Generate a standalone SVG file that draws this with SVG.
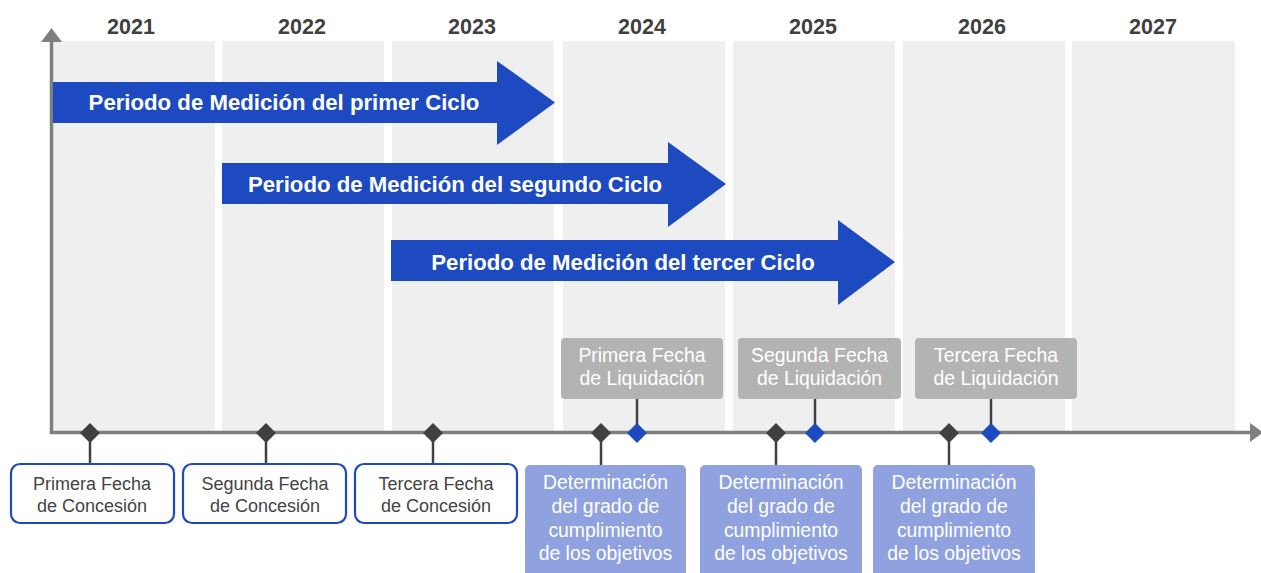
<svg xmlns="http://www.w3.org/2000/svg" width="1261" height="573" viewBox="0 0 1261 573">
<style>
.col{fill:#efefef}
.yr{font-family:"Liberation Sans",Arial,sans-serif;font-weight:bold;font-size:21.5px;fill:#404040;text-anchor:middle}
.band{fill:#1d4ac0}
.bt{font-family:"Liberation Sans",Arial,sans-serif;font-weight:bold;font-size:22.2px;fill:#ffffff;text-anchor:middle}
.axis{stroke:#7f7f7f;stroke-width:3.5;fill:none}
.axh{fill:#7f7f7f}
.stem{stroke:#404040;stroke-width:2.5}
.dd{fill:#404040}
.bd{fill:#1d4ac0}
.cb{fill:#ffffff;stroke:#1d4ac0;stroke-width:2.2}
.ct{font-family:"Liberation Sans",Arial,sans-serif;font-size:18px;fill:#444444;text-anchor:middle}
.gb{fill:#b3b3b3}
.gt{font-family:"Liberation Sans",Arial,sans-serif;font-size:19.4px;fill:#ffffff;text-anchor:middle}
.db{fill:#8fa2df}
.dt{font-family:"Liberation Sans",Arial,sans-serif;font-size:19.4px;fill:#ffffff;text-anchor:middle}
</style>
<g id="columns">
<rect class="col" x="53" y="41" width="162" height="392"/>
<rect class="col" x="222" y="41" width="162" height="392"/>
<rect class="col" x="392" y="41" width="162" height="392"/>
<rect class="col" x="563" y="41" width="162" height="392"/>
<rect class="col" x="733" y="41" width="162" height="392"/>
<rect class="col" x="903" y="41" width="162" height="392"/>
<rect class="col" x="1072" y="41" width="163" height="392"/>
</g>
<g id="years">
<text class="yr" x="131" y="34">2021</text>
<text class="yr" x="302" y="34">2022</text>
<text class="yr" x="472" y="34">2023</text>
<text class="yr" x="642" y="34">2024</text>
<text class="yr" x="813" y="34">2025</text>
<text class="yr" x="982" y="34">2026</text>
<text class="yr" x="1153" y="34">2027</text>
</g>
<g id="axes">
<path class="axis" d="M51.5 38 V432.5 H1252"/>
<polygon class="axh" points="41,42 62,42 51.5,28"/>
<polygon class="axh" points="1250,423 1250,442 1263,432.5"/>
</g>
<g id="cycle1">
<polygon class="band" points="53,82 497,82 497,61 555,102.5 497,145 497,123 53,123"/>
<text class="bt" x="284" y="110">Periodo de Medición del primer Ciclo</text>
</g>
<g id="cycle2">
<polygon class="band" points="222,163 668,163 668,142 726,184 668,227 668,204 222,204"/>
<text class="bt" x="455" y="192">Periodo de Medición del segundo Ciclo</text>
</g>
<g id="cycle3">
<polygon class="band" points="391,240 838,240 838,220 895,262 838,305 838,281 391,281"/>
<text class="bt" x="623" y="270">Periodo de Medición del tercer Ciclo</text>
</g>
<g id="connectors">
<line class="stem" x1="90" y1="433" x2="90" y2="464"/>
<line class="stem" x1="266" y1="433" x2="266" y2="464"/>
<line class="stem" x1="433" y1="433" x2="433" y2="464"/>
<line class="stem" x1="601" y1="433" x2="601" y2="465"/>
<line class="stem" x1="776" y1="433" x2="776" y2="465"/>
<line class="stem" x1="949" y1="433" x2="949" y2="465"/>
<line class="stem" x1="637" y1="399" x2="637" y2="433"/>
<line class="stem" x1="815" y1="399" x2="815" y2="433"/>
<line class="stem" x1="991" y1="399" x2="991" y2="433"/>
</g>
<g id="markers">
<polygon class="dd" points="90,423 100,433 90,443 80,433"/>
<polygon class="dd" points="266,423 276,433 266,443 256,433"/>
<polygon class="dd" points="433,423 443,433 433,443 423,433"/>
<polygon class="dd" points="601,423 611,433 601,443 591,433"/>
<polygon class="dd" points="776,423 786,433 776,443 766,433"/>
<polygon class="dd" points="949,423 959,433 949,443 939,433"/>
<polygon class="bd" points="637,423 647,433 637,443 627,433"/>
<polygon class="bd" points="815,423 825,433 815,443 805,433"/>
<polygon class="bd" points="991,423 1001,433 991,443 981,433"/>
</g>
<g id="concesion1">
<rect class="cb" x="11" y="464" width="163" height="59" rx="9"/>
<text class="ct" x="92" y="490">Primera Fecha</text>
<text class="ct" x="92" y="512">de Concesión</text>
</g>
<g id="concesion2">
<rect class="cb" x="183" y="464" width="163" height="59" rx="9"/>
<text class="ct" x="265" y="490">Segunda Fecha</text>
<text class="ct" x="265" y="512">de Concesión</text>
</g>
<g id="concesion3">
<rect class="cb" x="355" y="464" width="162" height="59" rx="9"/>
<text class="ct" x="436" y="490">Tercera Fecha</text>
<text class="ct" x="436" y="512">de Concesión</text>
</g>
<g id="liquidacion1">
<rect class="gb" x="561" y="338" width="162" height="61" rx="4"/>
<text class="gt" x="642" y="362">Primera Fecha</text>
<text class="gt" x="642" y="384.5">de Liquidación</text>
</g>
<g id="liquidacion2">
<rect class="gb" x="738" y="338" width="163" height="61" rx="4"/>
<text class="gt" x="819.5" y="362">Segunda Fecha</text>
<text class="gt" x="819.5" y="384.5">de Liquidación</text>
</g>
<g id="liquidacion3">
<rect class="gb" x="915" y="338" width="162" height="61" rx="4"/>
<text class="gt" x="996" y="362">Tercera Fecha</text>
<text class="gt" x="996" y="384.5">de Liquidación</text>
</g>
<g id="determinacion1">
<rect class="db" x="525" y="465" width="161" height="120" rx="5"/>
<text class="dt" x="605.5" y="489">Determinación</text>
<text class="dt" x="605.5" y="512.5">del grado de</text>
<text class="dt" x="605.5" y="536.5">cumplimiento</text>
<text class="dt" x="605.5" y="560">de los objetivos</text>
</g>
<g id="determinacion2">
<rect class="db" x="700" y="465" width="162" height="120" rx="5"/>
<text class="dt" x="781" y="489">Determinación</text>
<text class="dt" x="781" y="512.5">del grado de</text>
<text class="dt" x="781" y="536.5">cumplimiento</text>
<text class="dt" x="781" y="560">de los objetivos</text>
</g>
<g id="determinacion3">
<rect class="db" x="873" y="465" width="162" height="120" rx="5"/>
<text class="dt" x="954" y="489">Determinación</text>
<text class="dt" x="954" y="512.5">del grado de</text>
<text class="dt" x="954" y="536.5">cumplimiento</text>
<text class="dt" x="954" y="560">de los objetivos</text>
</g>
</svg>
